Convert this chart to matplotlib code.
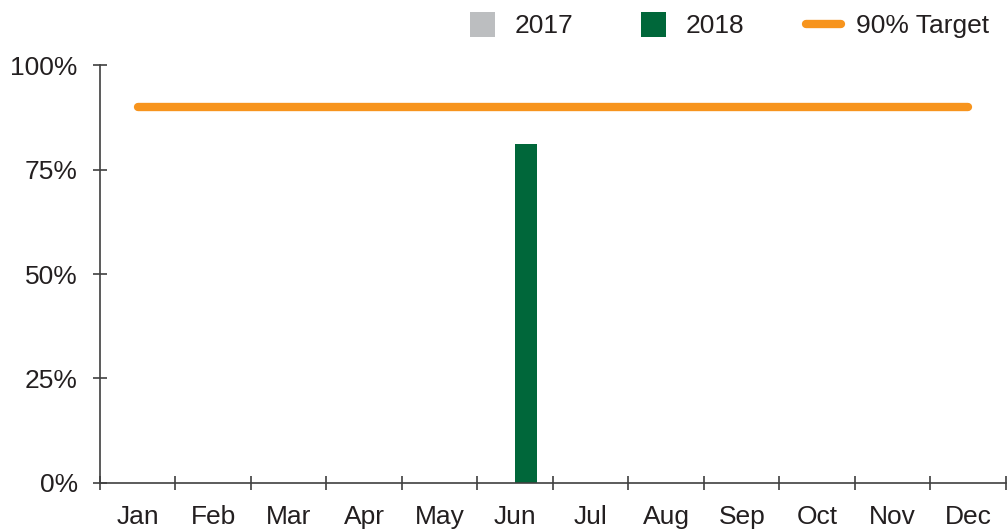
import numpy as np
import matplotlib.pyplot as plt
from matplotlib.lines import Line2D

plt.rcParams['font.family'] = ['Liberation Sans', 'DejaVu Sans']

months = ['Jan', 'Feb', 'Mar', 'Apr', 'May', 'Jun',
          'Jul', 'Aug', 'Sep', 'Oct', 'Nov', 'Dec']
vals_2017 = [np.nan] * 12
vals_2018 = [np.nan, np.nan, np.nan, np.nan, np.nan, 0.81,
             np.nan, np.nan, np.nan, np.nan, np.nan, np.nan]
target = [0.90] * 12

c17 = '#bcbec0'
c18 = '#00673a'
c_target = '#f7941d'
txt = '#231f20'
fs = 19

x = np.arange(len(months))
w = 0.29

fig = plt.figure(figsize=(10.08, 5.29), dpi=100)
ax = fig.add_axes([0.0992, 0.087, 0.8988, 0.790])

ax.bar(x - w / 2, vals_2017, w, color=c17)
ax.bar(x + w / 2, vals_2018, w, color=c18)
ax.plot(x, target, color=c_target, lw=6, solid_capstyle='round')

ax.set_xlim(-0.5, 11.5)
ax.set_ylim(0, 1)
ax.set_yticks([0, 0.25, 0.5, 0.75, 1.0])
ax.set_yticklabels(['0%', '25%', '50%', '75%', '100%'])
ax.set_xticks(np.arange(-0.5, 12, 1))
ax.set_xticklabels([])
ax.set_xticks(x, minor=True)
ax.set_xticklabels(months, minor=True)

for s in ['top', 'right']:
    ax.spines[s].set_visible(False)
for s in ['left', 'bottom']:
    ax.spines[s].set_color('#404040')
    ax.spines[s].set_linewidth(1.2)

ax.tick_params(axis='both', which='major', direction='inout', length=10,
               width=1.2, color='#404040', labelsize=fs, labelcolor=txt)
ax.tick_params(axis='x', which='minor', length=0, labelsize=fs,
               labelcolor=txt, pad=16)
ax.tick_params(axis='y', pad=11)

handles = [Line2D([0], [0], ls='none', marker='s', markersize=18,
                  markerfacecolor=c17, markeredgewidth=0, label='2017'),
           Line2D([0], [0], ls='none', marker='s', markersize=18,
                  markerfacecolor=c18, markeredgewidth=0, label='2018'),
           Line2D([0], [0], color=c_target, lw=6, solid_capstyle='round',
                  label='90% Target')]
leg = fig.legend(handles=handles, loc='upper right', ncol=3, frameon=False,
                 bbox_to_anchor=(1.0, 1.008), fontsize=fs,
                 handlelength=1.3, columnspacing=2.35, handletextpad=0.6,
                 borderaxespad=0.3)
for t in leg.get_texts():
    t.set_color(txt)

fig.savefig('out.png', dpi=100)
